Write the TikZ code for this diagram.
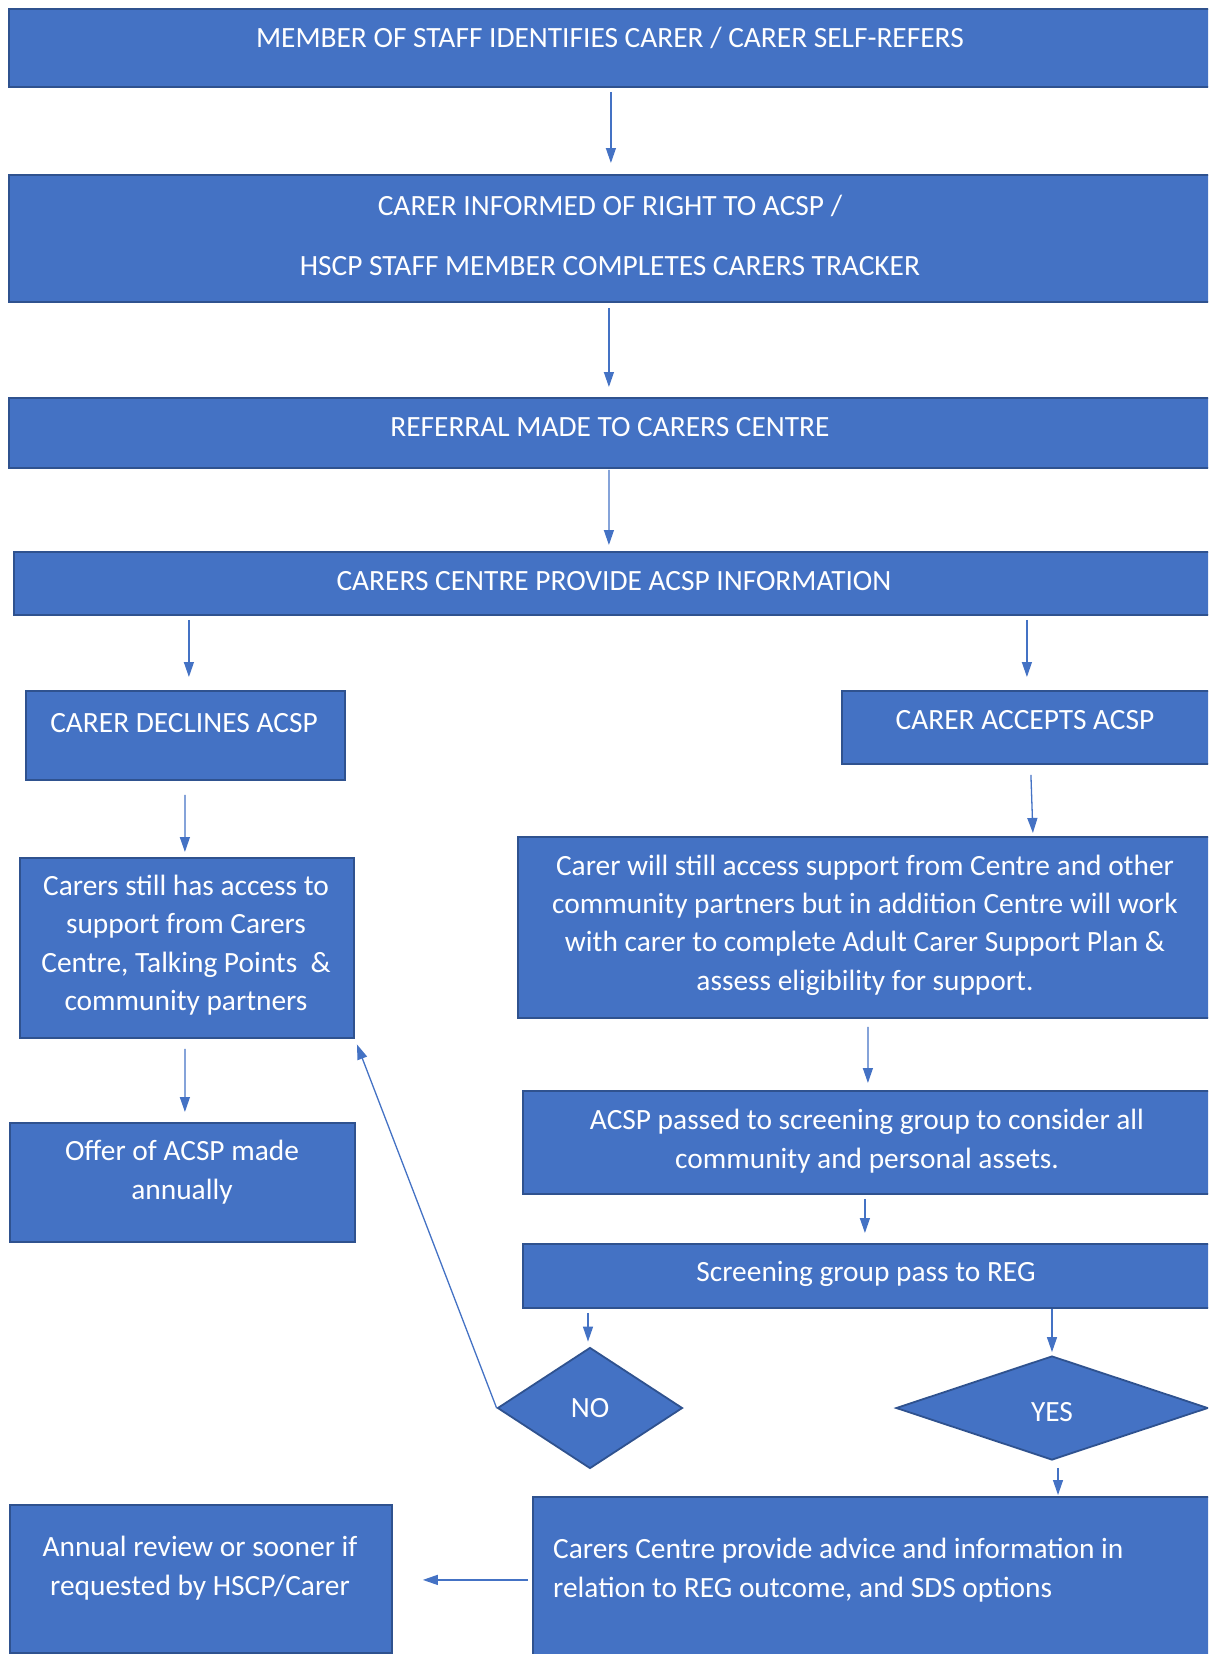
\documentclass[tikz,border=0pt]{standalone}
\usepackage{fontspec}
\setmainfont{Carlito}
\usetikzlibrary{arrows.meta,shapes.geometric,calc}
\definecolor{fillblue}{HTML}{4472C4}
\definecolor{edgeblue}{HTML}{2F528F}
\begin{document}
\begin{tikzpicture}[x=1bp,y=-1bp,
  box/.style={draw=edgeblue, fill=fillblue, line width=1.8bp, rectangle, inner sep=0pt, anchor=north west},
  dia/.style={draw=edgeblue, fill=fillblue, line width=1.8bp, diamond, inner sep=0pt, text=white, font=\fontsize{29.5}{38.5}\selectfont},
  txt/.style={text=white, font=\fontsize{29.5}{38.5}\selectfont, align=center, inner sep=0pt},
  arr/.style={draw=fillblue, line width=1.3bp, -{Triangle[length=15bp,width=10bp]}}]
\useasboundingbox (0,0) rectangle (1208,1654);
\clip (0,0) rectangle (1208,1654);
% boxes
\node[box, minimum width=1204bp, minimum height=78bp] (b1) at (8,8) {};
\node[txt] (t1) at (610,38) {MEMBER OF STAFF IDENTIFIES CARER / CARER SELF-REFERS};
\node[box, minimum width=1204bp, minimum height=127bp] (b2) at (8,174) {};
\node[txt] (t2) at (610,235) {CARER INFORMED OF RIGHT TO ACSP /\\[21.5bp] HSCP STAFF MEMBER COMPLETES CARERS TRACKER};
\node[box, minimum width=1204bp, minimum height=70bp] (b3) at (8,397) {};
\node[txt] (t3) at (610,427) {REFERRAL MADE TO CARERS CENTRE};
\node[box, minimum width=1199bp, minimum height=63bp] (b4) at (13,551) {};
\node[txt] (t4) at (614,581) {CARERS CENTRE PROVIDE ACSP INFORMATION};
\node[box, minimum width=319bp, minimum height=89bp] (dec) at (25,690) {};
\node[txt] (tdec) at (184,723) {CARER DECLINES ACSP};
\node[box, minimum width=371bp, minimum height=73bp] (acc) at (841,690) {};
\node[txt] (tacc) at (1025,720) {CARER ACCEPTS ACSP};
\node[box, minimum width=334bp, minimum height=180bp] (still) at (19,857) {};
\node[txt] (tstill) at (186,945) {Carers still has access to\\support from Carers\\Centre, Talking Points \ \&\\community partners};
\node[box, minimum width=695bp, minimum height=181bp] (will) at (517,836) {};
\node[txt] (twill) at (865,925) {Carer will still access support from Centre and other\\community partners but in addition Centre will work\\with carer to complete Adult Carer Support Plan \&\\assess eligibility for support.};
\node[box, minimum width=345bp, minimum height=119bp] (offer) at (9,1122) {};
\node[txt] (toffer) at (182,1172) {Offer of ACSP made\\annually};
\node[box, minimum width=690bp, minimum height=103bp] (passed) at (522,1090) {};
\node[txt] (tpassed) at (867,1141) {ACSP passed to screening group to consider all\\community and personal assets.};
\node[box, minimum width=690bp, minimum height=64bp] (screen) at (522,1243) {};
\node[txt] (tscreen) at (866,1274) {Screening group pass to REG};
\node[dia, minimum width=185bp, minimum height=121bp] (no) at (590,1408) {NO};
\node[dia, minimum width=312bp, minimum height=104bp] (yes) at (1052,1408) {};
\node[txt] (tyes) at (1052,1412) {YES};
\node[box, minimum width=690bp, minimum height=170bp] (final) at (532,1496) {};
\node[txt, anchor=west, align=left] (tfinal) at (553,1570) {Carers Centre provide advice and information in\\relation to REG outcome, and SDS options};
\node[box, minimum width=382bp, minimum height=148bp] (annual) at (9,1504) {};
\node[txt] (tannual) at (200,1568) {Annual review or sooner if\\requested by HSCP/Carer};
% connectors
\draw[arr] ($(b1.south)+(0,4)$) -- ($(b2.north)+(0,-11)$);
\draw[arr] ($(b2.south)+(-2,5)$) -- ($(b3.north)+(-2,-10)$);
\draw[arr] ($(b3.south)+(-2,1)$) -- ($(b4.north)+(-4.5,-6)$);
\draw[arr] ($(b4.south -| dec.north)+(3.5,4)$) -- ($(dec.north)+(3.5,-13)$);
\draw[arr] ($(b4.south -| acc.north)+(-0.5,4)$) -- ($(acc.north)+(-0.5,-13)$);
\draw[arr] ($(dec.south)+(-0.5,14)$) -- ($(still.north)+(-2,-5)$);
\draw[arr] ($(acc.south)+(3.5,10)$) -- ($(will.north -| acc.south)+(5.5,-3)$);
\draw[arr] ($(will.south)+(2.5,8)$) -- ($(passed.north)+(0,-7)$);
\draw[arr] ($(still.south)+(-2,10)$) -- ($(offer.north)+(2.5,-10)$);
\draw[arr] ($(passed.south)+(-3,4)$) -- ($(screen.north)+(-3,-10)$);
\draw[arr] ($(screen.south -| no.north)+(-2,4)$) -- ($(no.north)+(-2,-5)$);
\draw[arr] (screen.south -| yes.north) -- ($(yes.north)+(0,-3)$);
\draw[arr] ($(yes.south)+(6,7)$) -- ($(final.north -| yes.south)+(6,-1)$);
\draw[arr] ($(final.west |- annual.east)+(-4,1)$) -- ($(annual.east)+(30,1)$);
\draw[arr, shorten >=6bp] (no.west) -- (still.south east);
\end{tikzpicture}
\end{document}
